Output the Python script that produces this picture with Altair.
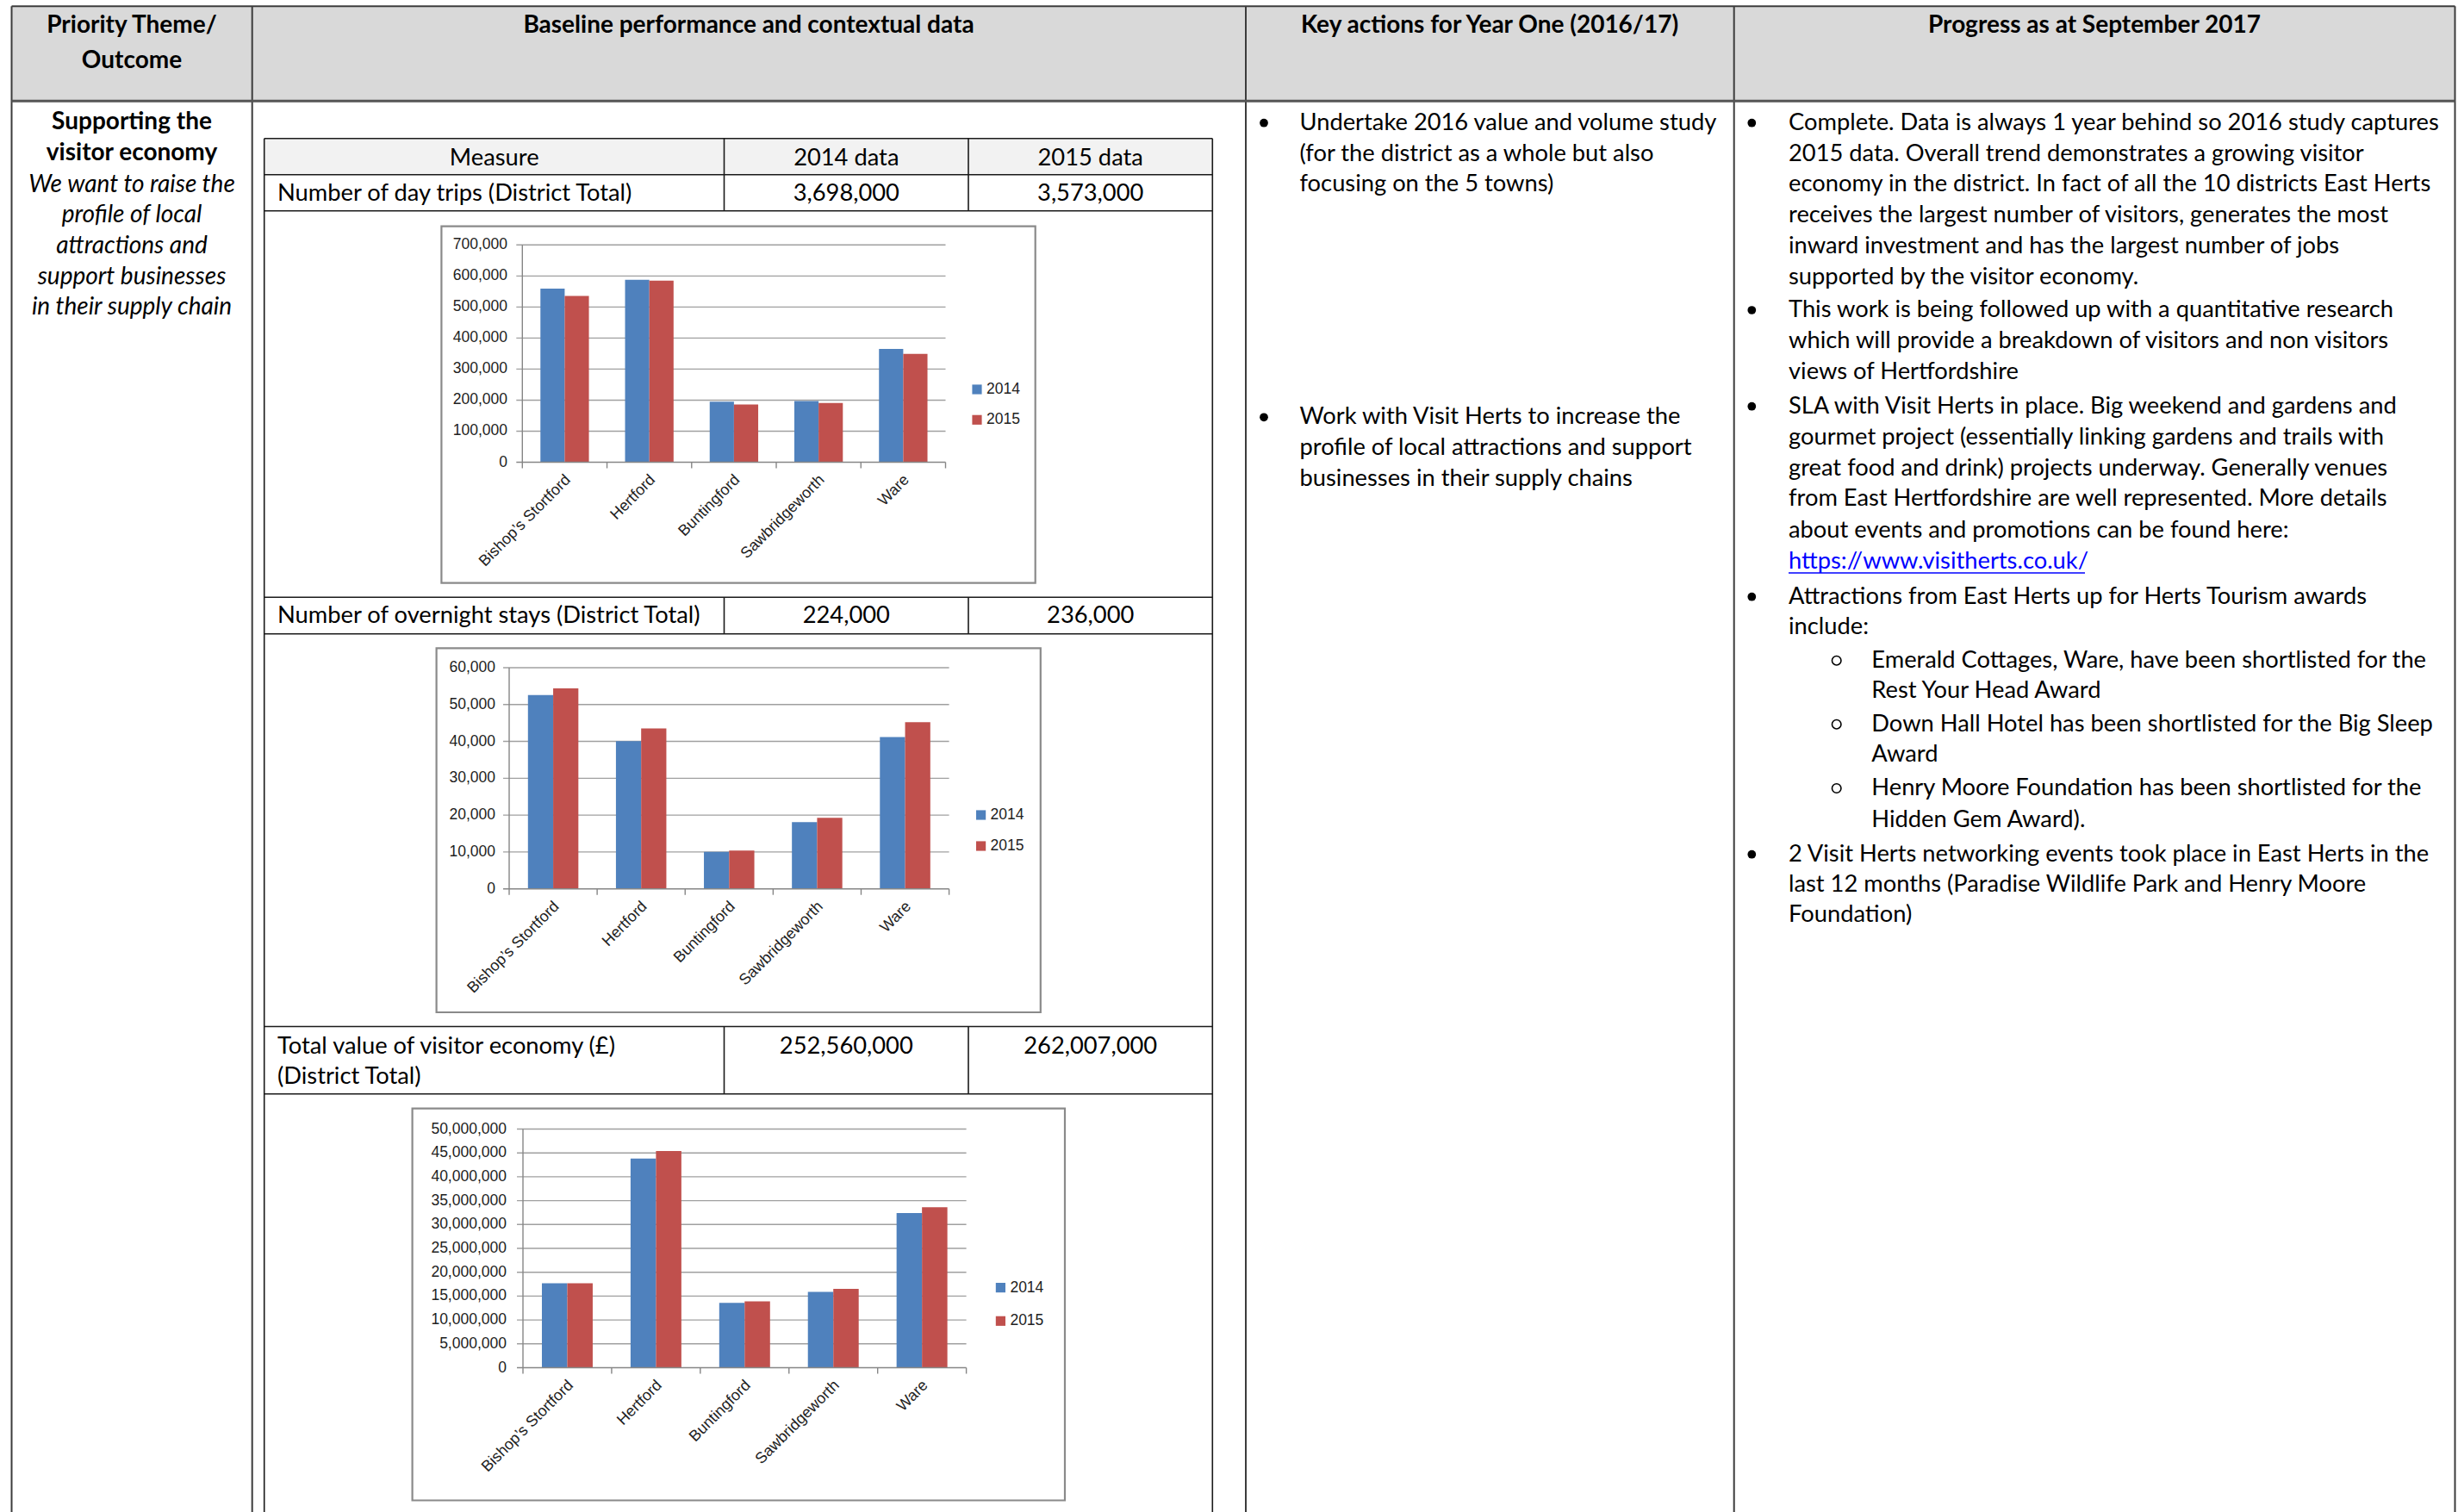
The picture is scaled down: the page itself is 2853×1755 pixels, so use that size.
import altair as alt
import pandas as pd

# ---------------------------------------------------------------- data
towns = ["Bishop\u2019s Stortford", "Hertford", "Buntingford", "Sawbridgeworth", "Ware"]
years = ["2014", "2015"]

day_trips_2014 = [559000, 588000, 195000, 197000, 365000]
day_trips_2015 = [536000, 585000, 186000, 191000, 349000]

overnight_2014 = [52600, 40100, 10050, 18100, 41200]
overnight_2015 = [54400, 43500, 10400, 19300, 45200]

value_2014 = [17700000, 43800000, 13600000, 15900000, 32400000]
value_2015 = [17700000, 45400000, 13900000, 16500000, 33600000]

measures = [
    "Number of day trips (District Total)",
    "Number of overnight stays  (District Total)",
    "Total value of visitor economy (\u00a3)",
]
district_2014 = ["3,698,000", "224,000", "252,560,000"]
district_2015 = ["3,573,000", "236,000", "262,007,000"]

# ---------------------------------------------------------------- style
W, H = 2853, 1755
BODY = "Lato"
CHART_FONT = "Liberation Sans"
FS = 27.3
FS_BOLD = 28
FS_ITALIC = 28
BLUE, RED = "#4f81bd", "#c0504d"
GRID, AXIS, FRAME = "#a0a0a0", "#868686", "#8a8a8a"


def px_x(f):
    return alt.X(f"{f}:Q", scale=alt.Scale(domain=[0, W], range=[0, W], nice=False, zero=False), axis=None)


def px_y(f):
    return alt.Y(f"{f}:Q", scale=alt.Scale(domain=[0, H], range=[0, H], nice=False, zero=False), axis=None)


def rules(segs, color, width):
    df = pd.DataFrame(segs, columns=["x1", "y1", "x2", "y2"])
    return alt.Chart(df).mark_rule(color=color, strokeWidth=width).encode(
        x=px_x("x1"), y=px_y("y1"), x2=alt.X2("x2:Q"), y2=alt.Y2("y2:Q"))


def rects(boxes, **kw):
    df = pd.DataFrame(boxes, columns=["x1", "y1", "x2", "y2"])
    return alt.Chart(df).mark_rect(**kw).encode(
        x=px_x("x1"), y=px_y("y1"), x2=alt.X2("x2:Q"), y2=alt.Y2("y2:Q"))


def texts(rows, align="left", weight="normal", style="normal", color="#000", size=FS, font=BODY):
    df = pd.DataFrame(rows, columns=["x", "y", "text"])
    return alt.Chart(df).mark_text(
        align=align, baseline="middle", font=font, fontSize=size,
        fontWeight=weight, fontStyle=style, color=color,
    ).encode(x=px_x("x"), y=px_y("y"), text="text:N")


def bullets(rows, filled=True):
    df = pd.DataFrame(rows, columns=["x", "y"])
    if filled:
        m = alt.Chart(df).mark_point(shape="circle", filled=True, size=95, color="#000", opacity=1)
    else:
        m = alt.Chart(df).mark_point(shape="circle", filled=False, size=110, color="#000",
                                     strokeWidth=1.6, opacity=1)
    return m.encode(x=px_x("x"), y=px_y("y"))


def bar_panel(v14, v15, vmax, step, box, plot, legend):
    pl, pr, y0, ytop, lab_r = plot
    lx, ly14, ly15 = legend
    yscale = alt.Scale(domain=[0, vmax], range=[y0, ytop], nice=False, zero=True)
    xband = alt.Scale(domain=towns, range=[pl, pr], paddingInner=0.427, paddingOuter=0.2135)

    long = pd.DataFrame({
        "town": towns * 2,
        "year": [years[0]] * len(towns) + [years[1]] * len(towns),
        "value": v14 + v15,
    })
    ticks = pd.DataFrame({"tick": list(range(0, vmax + 1, step))})
    cats = pd.DataFrame({"b": list(range(len(towns) + 1))})
    span = pd.DataFrame({"lo": [0], "hi": [vmax]})
    leg = pd.DataFrame({"year": years, "row": [0, 1]})
    color = alt.Color("year:N", scale=alt.Scale(domain=years, range=[BLUE, RED]), legend=None)

    layers = [
        rects([box], fill="white", stroke=FRAME, strokeWidth=2.2),
        alt.Chart(ticks).transform_filter("datum.tick > 0").mark_rule(color=GRID, strokeWidth=1.4).encode(
            y=alt.Y("tick:Q", scale=yscale, axis=None), x=alt.value(pl - 7), x2=alt.value(pr)),
        alt.Chart(span).mark_rule(color=AXIS, strokeWidth=1.4).encode(
            x=alt.value(pl), y=alt.Y("lo:Q", scale=yscale, axis=None), y2="hi:Q"),
        alt.Chart(cats).mark_rule(color=AXIS, strokeWidth=1.4).encode(
            x=alt.X("b:Q", scale=alt.Scale(domain=[0, len(towns)], range=[pl, pr], nice=False), axis=None),
            y=alt.value(y0), y2=alt.value(y0 + 7)),
        alt.Chart(long).mark_bar().encode(
            x=alt.X("town:N", scale=xband, axis=None),
            xOffset=alt.XOffset("year:N", scale=alt.Scale(domain=years, paddingInner=0, paddingOuter=0)),
            y=alt.Y("value:Q", scale=yscale, axis=None),
            color=color),
        alt.Chart(ticks).transform_filter("datum.tick == 0").mark_rule(color=AXIS, strokeWidth=1.4).encode(
            y=alt.Y("tick:Q", scale=yscale, axis=None), x=alt.value(pl - 7), x2=alt.value(pr)),
        alt.Chart(ticks).mark_text(align="right", baseline="middle", font=CHART_FONT,
                                   fontSize=17.5, color="#222").encode(
            y=alt.Y("tick:Q", scale=yscale, axis=None), x=alt.value(lab_r),
            text=alt.Text("tick:Q", format=",")),
        alt.Chart(pd.DataFrame({"town": towns})).mark_text(
            align="right", baseline="middle", angle=315, dx=3, dy=3,
            font=CHART_FONT, fontSize=18, color="#222").encode(
            x=alt.X("town:N", scale=xband, axis=None), y=alt.value(y0 + 18), text="town:N"),
        alt.Chart(leg).mark_square(size=125, opacity=1).encode(
            x=alt.value(lx), y=alt.Y("row:Q", scale=alt.Scale(domain=[0, 1], range=[ly14, ly15]), axis=None),
            color=color),
        alt.Chart(leg).mark_text(align="left", baseline="middle", font=CHART_FONT,
                                 fontSize=17.5, color="#222").encode(
            x=alt.value(lx + 11),
            y=alt.Y("row:Q", scale=alt.Scale(domain=[0, 1], range=[ly14, ly15]), axis=None),
            text="year:N"),
    ]
    return layers


# ---------------------------------------------------------------- table frame
L, R, TOP, HB = 13.5, 2849.5, 7.3, 117.3
C1, C2, C3 = 292.7, 1446, 2012.7
IL, IR, IA, IB = 306.7, 1407.3, 840.5, 1124
row_lines = [160.7, 202.7, 244.7, 693.3, 735.7, 1191.5, 1269.8]

layers = [
    rects([(L, TOP, R, HB)], fill="#d9d9d9"),
    rects([(IL, 160.7, IR, 202.7)], fill="#f2f2f2"),
    rules([(x, TOP, x, H) for x in (L, C1, C2, C3, R)] + [(L, TOP, R, TOP)], "#3c3c3c", 2),
    rules([(L, HB, R, HB)], "#555555", 3),
    rules([(IL, y, IR, y) for y in row_lines]
          + [(IL, 160.7, IL, H), (IR, 160.7, IR, H)]
          + [(x, a, x, b) for x in (IA, IB)
             for a, b in ((160.7, 244.7), (693.3, 735.7), (1191.5, 1269.8))],
          "#1a1a1a", 1.6),
]

# ---------------------------------------------------------------- charts
layers += bar_panel(day_trips_2014, day_trips_2015, 700000, 100000,
                    (512.4, 262.7, 1201.7, 676.7),
                    (606.3, 1097.5, 536.5, 284.3, 589),
                    (1134, 452, 487.3))
layers += bar_panel(overnight_2014, overnight_2015, 60000, 10000,
                    (506.6, 752.3, 1207.8, 1175),
                    (591, 1101.6, 1031.7, 775, 575),
                    (1138.6, 946, 982))
layers += bar_panel(value_2014, value_2015, 50000000, 5000000,
                    (478.6, 1286.7, 1236, 1741.5),
                    (607, 1121.6, 1587.5, 1310.5, 588),
                    (1161.4, 1494.6, 1533.3))

# ---------------------------------------------------------------- text
headers = [
    (153, 30.3, "Priority Theme/"), (153, 70.5, "Outcome"),
    (869, 30.3, "Baseline performance and contextual data"),
    (1729, 30.3, "Key actions for Year One (2016/17)"),
    (2431, 30.3, "Progress as at September 2017"),
    (153, 142, "Supporting the"), (153, 177.7, "visitor economy"),
]
theme = [
    (153, 215, "We want to raise the"), (153, 250, "profile of local"),
    (153, 285.7, "attractions and"), (153, 321.7, "support businesses"),
    (153, 357.3, "in their supply chain"),
]
table_center = [
    (573.7, 184, "Measure"), (982.3, 184, "2014 data"), (1265.7, 184, "2015 data"),
    (982.3, 225, district_2014[0]), (1265.7, 225, district_2015[0]),
    (982.3, 715, district_2014[1]), (1265.7, 715, district_2015[1]),
    (982.3, 1214.8, district_2014[2]), (1265.7, 1214.8, district_2015[2]),
]
table_left = [
    (322, 225, measures[0]), (322, 715, measures[1]),
    (322, 1214.8, measures[2]), (322, 1249.7, "(District Total)"),
]
actions = [
    (1508.5, 142.7, "Undertake 2016 value and volume study"),
    (1508.5, 178.5, "(for the district as a whole but also"),
    (1508.5, 214.3, "focusing on the 5 towns)"),
    (1508.5, 484.3, "Work with Visit Herts to increase the"),
    (1508.5, 520.1, "profile of local attractions and support"),
    (1508.5, 555.9, "businesses in their supply chains"),
]
P = 2076
S = 2172.3
progress = [
    (P, 142.7, "Complete. Data is always 1 year behind so 2016 study captures"),
    (P, 178.5, "2015 data. Overall trend demonstrates a growing visitor"),
    (P, 214.3, "economy in the district. In fact of all the 10 districts East Herts"),
    (P, 250.1, "receives the largest number of visitors, generates the most"),
    (P, 285.9, "inward investment and has the largest number of jobs"),
    (P, 321.7, "supported by the visitor economy."),
    (P, 360, "This work is being followed up with a quantitative research"),
    (P, 395.8, "which will provide a breakdown of visitors and non visitors"),
    (P, 431.6, "views of Hertfordshire"),
    (P, 471.7, "SLA with Visit Herts in place. Big weekend and gardens and"),
    (P, 507.6, "gourmet project (essentially linking gardens and trails with"),
    (P, 543.5, "great food and drink) projects underway. Generally venues"),
    (P, 579.4, "from East Hertfordshire are well represented. More details"),
    (P, 615.8, "about events and promotions can be found here:"),
    (P, 692.7, "Attractions from East Herts up for Herts Tourism awards"),
    (P, 728.3, "include:"),
    (S, 766.7, "Emerald Cottages, Ware, have been shortlisted for the"),
    (S, 802.3, "Rest Your Head Award"),
    (S, 840.7, "Down Hall Hotel has been shortlisted for the Big Sleep"),
    (S, 876, "Award"),
    (S, 915, "Henry Moore Foundation has been shortlisted for the"),
    (S, 951.7, "Hidden Gem Award)."),
    (P, 991.7, "2 Visit Herts networking events took place in East Herts in the"),
    (P, 1026.7, "last 12 months (Paradise Wildlife Park and Henry Moore"),
    (P, 1061.7, "Foundation)"),
]
link = [(P, 651.7, "https://www.visitherts.co.uk/")]

layers += [
    texts(headers, align="center", weight="bold", size=FS_BOLD),
    texts(theme, align="center", style="italic", size=FS_ITALIC),
    texts(table_center, align="center"),
    texts(table_left + actions + progress),
    texts(link, color="#0000ff"),
    rules([(P, 665, 2420, 665)], "#0000ff", 1.6),
    bullets([(1467, 142.7), (1467, 484.3),
             (2033.3, 142.7), (2033.3, 360), (2033.3, 471.7), (2033.3, 692.7), (2033.3, 991.7)]),
    bullets([(2131.7, 766.7), (2131.7, 840.7), (2131.7, 915)], filled=False),
]

chart = alt.layer(*layers).resolve_scale(
    x="independent", y="independent", color="independent", xOffset="independent"
).properties(
    width=W, height=H, padding=0, background="white",
    autosize=alt.AutoSizeParams(type="none"),
).configure_view(stroke=None)

chart.save("out.html", embed_options={"renderer": "svg", "actions": False})
